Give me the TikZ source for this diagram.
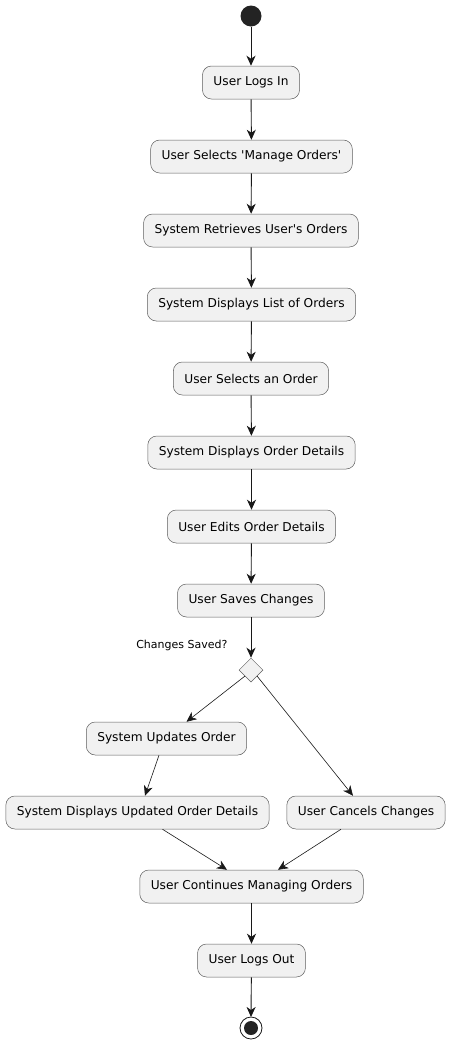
\documentclass[tikz,border=0pt]{standalone}
\usepackage{fontspec}
\setmainfont{DejaVu Sans}
\usetikzlibrary{arrows.meta,shapes.geometric}
\definecolor{boxfill}{HTML}{F1F1F1}
\definecolor{ink}{HTML}{181818}
\tikzset{
  act/.style={draw=ink!70,fill=boxfill,rounded corners=9pt,minimum height=33pt,inner xsep=11pt,font=\fontsize{12.2}{14}\selectfont,line width=0.5pt},
  flow/.style={-{Stealth[length=10pt,width=9pt,inset=3pt]},draw=ink,line width=0.9pt},
  branch/.style={-{Stealth[length=10pt,width=9pt,inset=3pt]},draw=ink,line width=0.6pt}
}
\begin{document}
\begin{tikzpicture}[x=1pt,y=-1pt]
	\useasboundingbox (0,0) rectangle (449,1045);
	\fill[ink!95] (251,16) circle (10.5) coordinate (start);
	\node[act] (login) at (251,82.5) {User Logs In};
	\node[act] (manage) at (251.5,156.5) {User Selects \textquotesingle Manage Orders\textquotesingle};
	\node[act] (fetch) at (251,230.5) {System Retrieves User\textquotesingle s Orders};
	\node[act] (list) at (251.5,304.5) {System Displays List of Orders};
	\node[act] (pick) at (251,378.5) {User Selects an Order};
	\node[act] (details) at (251.5,452.5) {System Displays Order Details};
	\node[act] (edit) at (251.5,526.5) {User Edits Order Details};
	\node[act] (save) at (251,600.5) {User Saves Changes};
	\node[diamond,draw=ink!70,fill=boxfill,minimum size=24pt,inner sep=0pt,line width=0.5pt] (saved) at (251,670) {};
	\node[font=\fontsize{11}{13}\selectfont,anchor=east] (q) at (231,645) {Changes Saved?};
	\node[act] (upd) at (166.5,738.5) {System Updates Order};
	\node[act] (show) at (137.5,812.5) {System Displays Updated Order Details};
	\node[act] (cancel) at (366,812.5) {User Cancels Changes};
	\node[act] (cont) at (251.5,886.5) {User Continues Managing Orders};
	\node[act] (logout) at (251.5,960.5) {User Logs Out};
	\draw[ink,line width=0.8pt,fill=white] (251,1028) circle (11) coordinate (stop);
	\fill[ink!95] (stop) circle (7);
	\draw[flow] (251,26.5) -- (login);
	\draw[flow] (login) -- (manage);
	\draw[flow] (manage) -- (fetch);
	\draw[flow] (fetch) -- (list);
	\draw[flow] (list) -- (pick);
	\draw[flow] (pick) -- (details);
	\draw[flow] (details) -- (edit);
	\draw[flow] (edit) -- (save);
	\draw[flow] (save) -- (saved);
	\draw[branch] (saved.south west) -- ([xshift=20pt]upd.north);
	\draw[branch] (saved.south east) -- ([xshift=-13pt]cancel.north);
	\draw[branch] ([xshift=-7.5pt]upd.south) -- ([xshift=7.5pt]show.north);
	\draw[branch] ([xshift=25pt]show.south) -- ([xshift=-24.5pt]cont.north);
	\draw[branch] ([xshift=-25pt]cancel.south) -- ([xshift=26.5pt]cont.north);
	\draw[flow] (cont) -- (logout);
	\draw[flow] (logout) -- (251,1017);
\end{tikzpicture}
\end{document}
